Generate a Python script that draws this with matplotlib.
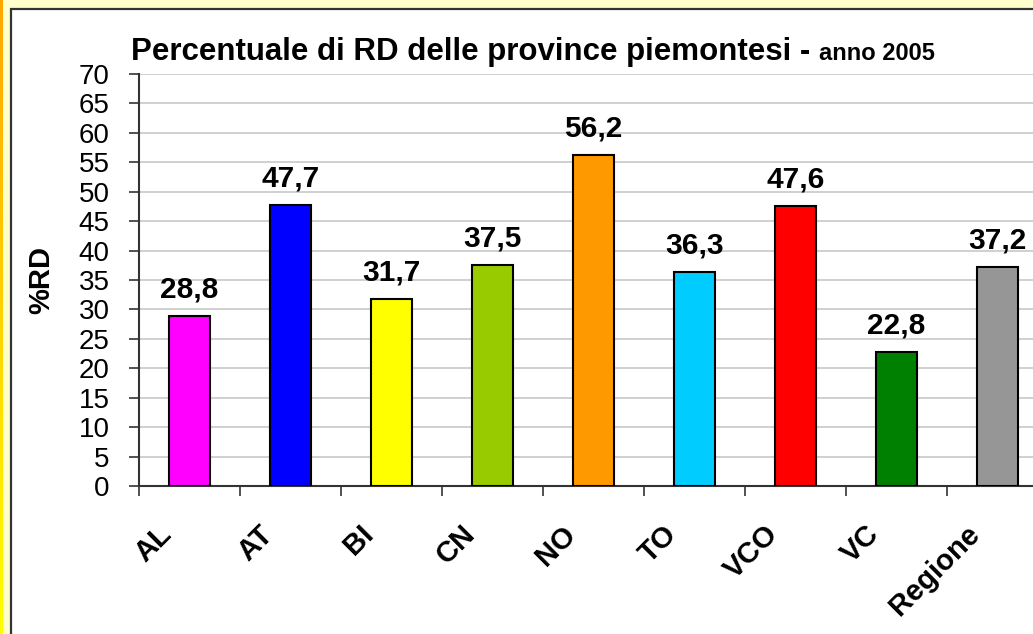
import numpy as np
import matplotlib
matplotlib.use('Agg')
import matplotlib.pyplot as plt
import matplotlib.transforms as mtransforms
from matplotlib.patches import Rectangle

plt.rcParams['font.family'] = ['Liberation Sans', 'DejaVu Sans']

# Data
province = ['AL', 'AT', 'BI', 'CN', 'NO', 'TO', 'VCO', 'VC', 'Regione']
rd_pct = [28.8, 47.7, 31.7, 37.5, 56.2, 36.3, 47.6, 22.8, 37.2]
colori = ['#FF00FF', '#0000FF', '#FFFF00', '#99CC00', '#FF9900',
          '#00CCFF', '#FF0000', '#008000', '#969696']
y_ticks = list(range(0, 75, 5))

W, H = 1033, 634
fig = plt.figure(figsize=(W / 100, H / 100), dpi=100)
fig.patch.set_facecolor('#FFFFCC')

# white chart area with dark border
bg = fig.add_axes([0, 0, 1, 1], zorder=-5)
bg.axis('off')
bg.add_patch(Rectangle((11, 9), W + 50, H + 50, facecolor='white',
                       edgecolor='#333333', linewidth=1.6))
# orange -> yellow stripe on the left edge
grad = np.linspace(0, 1, 256).reshape(-1, 1)
bg.imshow(grad, aspect='auto', extent=[0, 3, H, 0],
          cmap=matplotlib.colors.LinearSegmentedColormap.from_list(
              'st', ['#FFA500', '#FFFF00']))
bg.set_xlim(0, W)
bg.set_ylim(H, 0)

ax = fig.add_axes([139 / W, 1 - 486 / H, 909 / W, 412 / H])
ax.set_facecolor('none')
x = np.arange(len(province))
ax.bar(x, rd_pct, width=0.41, color=colori, edgecolor='black', linewidth=1.5, zorder=3)

for xi, v in zip(x, rd_pct):
    ax.annotate(f'{v:.1f}'.replace('.', ','), (xi, v), xytext=(0, 9),
                textcoords='offset points', ha='center', va='bottom',
                fontsize=21.5, fontweight='bold')

ax.set_xlim(-0.5, len(province) - 0.5)
ax.set_ylim(0, 70)
ax.set_yticks(y_ticks)
ax.set_yticklabels([str(t) for t in y_ticks], fontsize=20)
ax.tick_params(axis='y', length=7, width=1.2, pad=14, color='#333333')
ax.yaxis.grid(True, color='#C8C8C8', linewidth=1.2, zorder=0)
ax.set_axisbelow(True)

ax.set_xticks(np.arange(len(province) + 1) - 0.5)
ax.set_xticklabels([])
ax.tick_params(axis='x', length=7, width=1.2, color='#333333')
for sp in ['top', 'right']:
    ax.spines[sp].set_visible(False)
for sp in ['left', 'bottom']:
    ax.spines[sp].set_color('#333333')
    ax.spines[sp].set_linewidth(1.5)

# rotated category labels
base = mtransforms.blended_transform_factory(ax.transData, ax.transAxes)
off = mtransforms.ScaledTranslation(-32 / 100, -34 / 100, fig.dpi_scale_trans)
for xi, lab in zip(x, province):
    ax.text(xi, 0, lab, transform=base + off, rotation=45, rotation_mode='anchor',
            ha='right', va='top', fontsize=21, fontweight='bold', clip_on=False)

ax.set_ylabel('%RD', fontsize=21, fontweight='bold')
ax.yaxis.set_label_coords(-84 / 909, 0.5)

t1 = fig.text(131 / W, 1 - 60 / H, 'Percentuale di RD delle province piemontesi - ',
              fontsize=22.5, fontweight='bold', ha='left', va='baseline')
bb = t1.get_window_extent(renderer=fig.canvas.get_renderer())
fig.text(bb.x1 / W, 1 - 60 / H, 'anno 2005', fontsize=17, fontweight='bold',
         ha='left', va='baseline')

fig.savefig('out.png', dpi=100, facecolor=fig.get_facecolor())
